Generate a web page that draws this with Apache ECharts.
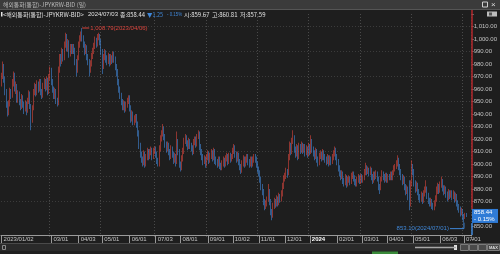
<!DOCTYPE html>
<html><head><meta charset="utf-8">
<script src="https://cdn.jsdelivr.net/npm/echarts@6/dist/echarts.min.js"></script>
<style>html,body{margin:0;padding:0;background:#1e1e1e;overflow:hidden}#c{width:500px;height:254px}</style>
</head><body><div id="c"></div><script>
// ---- data ----
const START_DATE = '2023-01-02';
const END_DATE = '2024-07-09'; // axis runs a few empty sessions past the last candle
const categories = [];
for (let d = new Date(START_DATE + 'T00:00:00Z'); d <= new Date(END_DATE + 'T00:00:00Z'); d.setUTCDate(d.getUTCDate() + 1)) {
  const w = d.getUTCDay(); if (w === 0 || w === 6) continue;
  categories.push(d.getUTCFullYear() + '/' + String(d.getUTCMonth() + 1).padStart(2, '0') + '/' + String(d.getUTCDate()).padStart(2, '0'));
}
const openVals = [
965,970,978,968,958,948,940,948,958,955,
965,972,960,962,952,956,950,946,953,948,
944,948,942,950,957,946,935,944,958,962,
957,964,960,966,958,955,962,966,961,967,
958,969,975,966,960,955,958,950,948,975,
985,982,990,985,995,1002,993,997,988,994,
990,994,991,982,974,985,995,1000,1003,1001,
996,990,993,986,982,976,980,986,990,994,
999,996,1001,1003,998,990,978,985,989,984,
982,986,981,985,983,987,984,978,974,966,
960,955,950,946,948,944,947,950,954,945,
936,940,934,936,938,932,925,915,908,904,
900,908,899,905,910,906,909,911,906,910,
912,908,903,899,912,920,924,929,922,916,
912,915,910,906,912,908,903,906,901,918,
910,900,896,904,910,918,922,917,914,918,
915,913,910,917,920,916,922,925,914,910,
906,902,904,900,905,908,903,906,909,905,
910,903,902,900,904,899,896,900,903,900,
904,906,902,907,904,906,910,914,908,904,
907,902,898,894,900,904,900,903,906,902,
900,904,899,903,906,904,900,896,893,888,
882,878,870,866,868,871,878,870,862,858,
866,870,868,872,869,874,872,876,882,888,
890,894,892,905,915,910,918,922,912,908,
913,906,914,911,915,911,914,909,912,908,
914,910,918,912,909,906,910,904,900,906,
908,905,909,906,904,902,905,900,904,902,
905,908,911,906,902,897,893,890,892,887,
885,889,884,887,888,886,890,892,889,886,
884,887,889,886,890,887,889,893,898,894,
895,893,896,890,887,892,890,893,889,882,
880,888,892,890,888,891,887,890,889,892,
889,893,896,898,900,904,898,894,890,886,
888,882,878,880,874,868,884,898,894,885,
880,883,878,874,872,875,870,876,879,880,
875,871,868,870,867,865,868,872,878,882,
879,883,886,881,878,880,876,873,877,875,
877,874,876,872,874,869,866,864,861,862,
858,857,859.67];
const closeVals = [
970,978,968,958,948,940,948,958,955,965,
972,960,962,952,956,950,946,953,948,944,
948,942,950,957,946,935,944,958,962,957,
964,960,966,958,955,962,966,961,967,958,
969,975,966,960,955,958,950,948,975,985,
982,990,985,995,1002,993,997,988,994,990,
994,991,982,974,985,995,1000,1003,1001,996,
990,993,986,982,976,980,986,990,994,999,
996,1001,1003,998,990,978,985,989,984,982,
986,981,985,983,987,984,978,974,966,960,
955,950,946,948,944,947,950,954,945,936,
940,934,936,938,932,925,915,908,904,900,
908,899,905,910,906,909,911,906,910,912,
908,903,899,912,920,924,929,922,916,912,
915,910,906,912,908,903,906,901,918,910,
900,896,904,910,918,922,917,914,918,915,
913,910,917,920,916,922,925,914,910,906,
902,904,900,905,908,903,906,909,905,910,
903,902,900,904,899,896,900,903,900,904,
906,902,907,904,906,910,914,908,904,907,
902,898,894,900,904,900,903,906,902,900,
904,899,903,906,904,900,896,893,888,882,
878,870,866,868,871,878,870,862,858,866,
870,868,872,869,874,872,876,882,888,890,
894,892,905,915,910,918,922,912,908,913,
906,914,911,915,911,914,909,912,908,914,
910,918,912,909,906,910,904,900,906,908,
905,909,906,904,902,905,900,904,902,905,
908,911,906,902,897,893,890,892,887,885,
889,884,887,888,886,890,892,889,886,884,
887,889,886,890,887,889,893,898,894,895,
893,896,890,887,892,890,893,889,882,880,
888,892,890,888,891,887,890,889,892,889,
893,896,898,900,904,898,894,890,886,888,
882,878,880,874,868,884,898,894,885,880,
883,878,874,872,875,870,876,879,880,875,
871,868,870,867,865,868,872,878,882,879,
883,886,881,878,880,876,873,877,875,877,
874,876,872,874,869,866,864,861,862,858,
857,859.69,858.44];
const lowVals = [
962,968,965,955,945,938,939,946,952,953,
962,958,956,949,949,947,943,944,945,940,
942,939,941,948,944,927,933,943,955,954,
955,957,958,955,952,953,960,958,959,955,
956,967,963,957,952,952,948,946,947,973,
978,980,982,983,993,990,990,985,986,988,
988,988,979,970,973,983,993,998,998,993,
987,988,983,979,970,973,978,984,988,992,
993,994,999,995,987,972,976,983,981,979,
980,978,979,980,981,981,975,970,963,957,
952,947,943,943,941,942,945,948,942,933,
934,931,931,933,929,922,912,905,901,898,
899,897,898,903,903,904,907,903,904,908,
905,900,898,898,910,918,922,919,913,909,
910,907,903,904,905,900,901,898,900,907,
897,894,895,902,908,916,914,911,912,912,
910,907,908,915,913,914,920,911,907,903,
899,900,897,898,903,900,901,904,902,903,
900,899,897,898,896,895,895,898,897,898,
902,899,900,901,902,904,908,905,901,902,
899,895,892,893,898,897,898,901,899,897,
898,897,898,901,901,897,893,890,885,879,
875,867,863,864,866,870,867,859,855,857,
864,865,866,866,867,869,870,874,880,886,
888,889,891,903,907,908,916,909,905,906,
903,904,908,909,908,909,906,907,905,906,
907,908,909,906,903,904,901,898,899,904,
902,903,903,901,899,900,898,899,899,900,
903,906,903,899,894,890,887,888,884,882,
883,881,882,885,883,884,888,886,883,882,
882,885,884,884,885,885,887,891,891,892,
890,891,887,884,885,887,888,886,879,876,
879,886,887,885,886,885,885,887,887,887,
887,891,894,896,898,895,891,887,883,884,
879,875,876,871,863,866,882,891,882,877,
878,875,871,869,870,868,869,874,877,872,
868,866,866,864,863,863,866,870,876,876,
877,881,878,875,876,873,870,871,872,873,
871,872,869,870,866,863,861,858,859,855,
853.1,856,857.59];
const highVals = [
973,982,980,970,960,950,951,961,960,968,
974,973,966,964,959,958,952,956,955,950,
951,950,953,959,958,948,947,960,965,964,
967,966,968,968,960,965,969,968,970,969,
972,978,977,968,962,961,960,953,978,988,
988,993,992,998,1005,1004,1000,999,996,996,
996,996,993,984,987,998,1003,1006,1008.79,1003,
998,996,995,988,984,983,989,993,997,1002,
1001,1004,1005,1004,1000,992,988,992,991,987,
989,988,988,987,990,990,986,980,976,968,
962,957,952,951,950,950,953,955,955,947,
943,942,939,940,940,934,927,917,910,906,
911,910,908,913,912,912,914,913,913,914,
914,910,905,915,923,927,932,930,924,918,
918,917,912,915,914,910,909,908,926,920,
912,902,907,913,921,924,923,919,921,920,
917,915,920,922,922,924,927,926,916,912,
908,907,906,908,911,910,909,912,911,913,
912,906,904,906,906,901,903,906,905,907,
909,908,909,909,908,913,916,915,910,910,
909,904,900,903,907,906,906,908,908,904,
906,906,906,908,908,906,902,898,895,890,
884,880,872,871,874,884,880,872,864,869,
873,872,875,874,877,876,879,885,891,893,
897,896,908,918,917,921,927,923,914,916,
915,917,916,918,917,916,916,915,914,917,
916,923,920,914,911,913,912,906,909,911,
910,912,911,908,906,908,907,907,906,908,
911,914,913,908,904,899,895,895,894,889,
892,891,890,891,890,893,894,894,891,888,
890,892,891,892,892,891,896,901,899,898,
897,898,897,892,894,894,895,894,890,884,
890,895,894,892,893,893,892,892,894,894,
895,899,900,903,907,905,900,896,892,891,
890,884,883,882,887,887,903,900,896,887,
886,885,880,876,878,877,879,882,887,882,
877,873,873,872,869,871,875,882,885,884,
886,890,888,883,883,882,878,880,879,879,
879,879,878,877,876,871,868,866,865,864,
860,861,860.81];
const tickDates = ['2023/01/02','2023/03/01','2023/04/03','2023/05/01','2023/06/01','2023/07/03','2023/08/01','2023/09/01','2023/10/02','2023/11/01','2023/12/01','2024/01/01','2024/02/01','2024/03/01','2024/04/01','2024/05/01','2024/06/03','2024/07/01'];
const tickTexts = ['2023/01/02','03/01','04/03','05/01','06/01','07/03','08/01','09/01','10/02','11/01','12/01','2024','02/01','03/01','04/01','05/01','06/03','07/01'];
const gridDates = ['2023/03/01','2023/05/01','2023/07/03','2023/09/01','2023/11/01','2024/01/01','2024/03/01','2024/05/01','2024/07/01'];
const hGridValues = [870,890,910,930,950,970,990,1010];
const lastInfo = {date:'2024/07/03', close:858.44, change:1.25, pct:-0.15, open:859.67, high:860.81, low:857.59};

// ---- chart ----
const UP = '#d8443c', DOWN = '#3f87d8';
const FONT = '"Liberation Sans", Arial, sans-serif';
const KFONT = '"Noto Sans CJK KR", "Liberation Sans", sans-serif';
const fmt = v => Number(v).toLocaleString('en-US', {minimumFractionDigits:2, maximumFractionDigits:2});
const candleData = closeVals.map((c, i) => [openVals[i], c, lowVals[i], highVals[i]]);
const tickMap = {};
tickDates.forEach((d, j) => { tickMap[categories.indexOf(d)] = tickTexts[j]; });
const gridSet = new Set(gridDates.map(d => categories.indexOf(d) - 1));

const chart = echarts.init(document.getElementById('c'));
chart.setOption({
  backgroundColor: '#1e1e1e',
  animation: false,
  grid: {left: 1, right: 28, top: 14, bottom: 15},
  xAxis: {
    type: 'category', data: categories, boundaryGap: true, offset: -4,
    axisLine: {lineStyle: {color: '#9a9a9a', width: 1}},
    axisTick: {show: true, alignWithLabel: true, interval: i => tickMap[i] !== undefined, length: 8, lineStyle: {color: '#9a9a9a'}},
    axisLabel: {
      interval: i => tickMap[i] !== undefined,
      formatter: (v, i) => { const t = tickMap[i]; if (!t) return ''; return t === '2024' ? '{y|2024}' : t; },
      align: 'left', margin: 1, padding: [0, 0, 0, 2], color: '#c4c4c4', fontSize: 6, fontFamily: FONT,
      rich: {y: {fontSize: 6, fontWeight: 'bold', color: '#ffffff', fontFamily: FONT}}
    },
    splitLine: {show: true, interval: i => gridSet.has(i), lineStyle: {color: '#4a4a4a', type: [1, 2], width: 1}}
  },
  yAxis: {
    type: 'value', position: 'right', min: 840, max: 1020, interval: 10,
    axisLine: {show: false},
    axisTick: {show: true, length: 2, lineStyle: {color: '#888'}},
    axisLabel: {margin: 2, color: '#c4c4c4', fontSize: 6, fontFamily: FONT, formatter: v => (v < 850 || v > 1010) ? '' : fmt(v)},
    splitLine: {show: false}
  },
  series: [{
    type: 'candlestick', data: candleData, barWidth: 1,
    itemStyle: {color: UP, color0: DOWN, borderColor: UP, borderColor0: DOWN, borderWidth: 0.6},
    markLine: {
      silent: true, symbol: ['none', 'none'], z: 1, label: {show: false},
      lineStyle: {color: '#3c3c3c', type: [1, 2], width: 1},
      data: hGridValues.map(v => ({yAxis: v}))
    }
  }]
});

// ---- annotations & chrome ----
let maxI = 0, minI = 0;
highVals.forEach((v, i) => { if (v > highVals[maxI]) maxI = i; });
lowVals.forEach((v, i) => { if (v < lowVals[minI]) minI = i; });
const pMax = chart.convertToPixel({seriesIndex: 0}, [maxI, highVals[maxI]]);
const pMin = chart.convertToPixel({seriesIndex: 0}, [minI, lowVals[minI]]);
const lastI = closeVals.length - 1;
const pLast = chart.convertToPixel({seriesIndex: 0}, [lastI, closeVals[lastI]]);
const axX = 472;
const mctx = document.createElement('canvas').getContext('2d');
// text element; if fitW is given the text is squeezed horizontally to that width
const t = (text, x, y, fill, extra, fitW) => {
  const st = Object.assign({text, x: 0, y: 0, fill, font: '6px ' + FONT, textVerticalAlign: 'middle'}, extra || {});
  let s = 1;
  if (fitW) { mctx.font = st.font; const w = mctx.measureText(text).width; if (w > 0) s = Math.min(1, fitW / w); }
  return {type: 'text', silent: true, z: 100, x, y, scaleX: s, style: st};
};
const r = (x, y, w, h, fill, stroke) => ({type: 'rect', silent: true, z: 90, shape: {x, y, width: w, height: h}, style: {fill, stroke: stroke || null, lineWidth: 1}});
const ln = (pts, stroke, w) => ({type: 'polyline', silent: true, z: 95, shape: {points: pts}, style: {stroke, lineWidth: w || 1, fill: null}});
const KF = {font: '6px ' + KFONT};

const g = [];
// title bar
g.push(r(0, 0, 500, 9, '#3b3b3b'));
g.push(ln([[0, 9.5], [500, 9.5]], '#555'));
g.push(t('해외통화(통합)-JPYKRW-BID (일)', 3, 5, '#b8b8b8', KF, 83));
g.push(r(482.5, 2, 5, 5, null, '#cfcfcf'));
g.push(t('×', 491, 4.5, '#dcdcdc', {font: '8px ' + FONT}));
// info line
g.push(r(1, 12, 1.5, 4.5, '#e8e8e8'));
g.push(t('<해외통화(통합)-JPYKRW-BID>', 3, 14.5, '#e0e0e0', KF, 83));
g.push(t(lastInfo.date, 88, 14.5, '#e0e0e0', null, 30));
g.push(t('종:' + fmt(lastInfo.close), 120, 14.5, '#e0e0e0', KF, 25));
g.push(t('▼' + fmt(lastInfo.change), 147, 14.5, DOWN, KF, 16));
g.push(t('- ' + fmt(Math.abs(lastInfo.pct)) + '%', 167, 14.5, DOWN, null, 15));
g.push(t('시:' + fmt(lastInfo.open), 184, 14.5, '#e0e0e0', KF, 26));
g.push(t('고:' + fmt(lastInfo.high), 212, 14.5, '#e0e0e0', KF, 26));
g.push(t('저:' + fmt(lastInfo.low), 240, 14.5, '#e0e0e0', KF, 26));
g.push(r(487, 11.5, 10, 5, '#bdbdbd'));
g.push(r(489, 12.5, 3, 3, '#555'));
// price axis line + current price box
g.push(ln([[axX, 10], [axX, pLast[1] - 7]], '#b3282d', 1.5));
g.push(ln([[axX, pLast[1] + 7], [axX, 235]], DOWN, 1.5));
g.push(r(axX, pLast[1] - 7, 26, 14, '#2f7bd6'));
g.push(t(fmt(closeVals[lastI]), axX + 2, pLast[1] - 3.5, '#ffffff'));
g.push(t('- ' + fmt(Math.abs(lastInfo.pct)) + '%', axX + 2, pLast[1] + 3.5, '#ffffff'));
// max / min annotations
g.push(ln([[pMax[0], pMax[1]], [pMax[0] + 7, pMax[1]]], UP));
g.push(t(fmt(highVals[maxI]) + '(' + categories[maxI] + ')', pMax[0] + 8, pMax[1], UP));
g.push(ln([[pMin[0], pMin[1]], [pMin[0], pMin[1] + 6], [pMin[0] - 14, pMin[1] + 6]], DOWN));
g.push(t(fmt(lowVals[minI]) + '(' + categories[minI] + ')', pMin[0] - 15, pMin[1] + 6, DOWN, {textAlign: 'right'}));
// bottom scroll bar
g.push(r(0, 243, 500, 11, '#202020'));
g.push(ln([[0, 243.5], [500, 243.5]], '#4a4a4a'));
g.push(r(0, 244, 500, 7, '#2a2a2a'));
g.push(r(2.5, 245.5, 3, 4, null, '#8a8a8a'));
g.push(ln([[415, 247.5], [456, 247.5]], '#a8a8a8', 1.5));
g.push(r(454, 245, 3, 5, '#e0e0e0'));
g.push(r(460.5, 244.5, 8, 6, '#4a4a4a', '#7a7a7a'));
g.push(r(469.5, 244.5, 8, 6, '#4a4a4a', '#7a7a7a'));
g.push(r(478.5, 244.5, 8, 6, '#4a4a4a', '#7a7a7a'));
g.push(r(487.5, 244.5, 12, 6, '#4a4a4a', '#7a7a7a'));
g.push(t('MAX', 489, 247.8, '#dddddd', {font: 'bold 4px ' + FONT}));
g.push(r(372, 251.5, 26, 3, '#3a8a3a'));
chart.setOption({graphic: {elements: g}});
</script></body></html>
